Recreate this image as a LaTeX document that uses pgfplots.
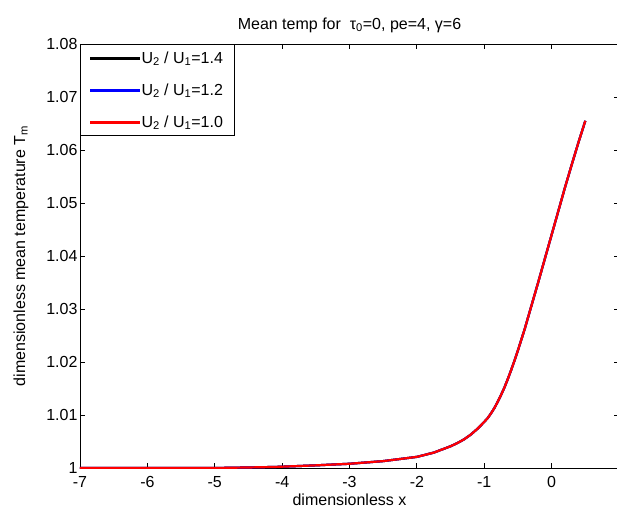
\documentclass[border=0pt]{standalone}
\usepackage{pgfplots}
\usepackage{pgfplotstable}
\pgfplotsset{compat=1.18}
\usepackage{fontspec}
\setmainfont{Liberation Sans}
\pgfplotstableread{
x y
-7.0 1.0000
-6.0 1.0000
-5.0 1.0000
-4.5 1.0001
-4.1 1.0002
-3.5 1.0005
-3.0 1.0008
-2.5 1.0013
-2.0 1.0021
-1.75 1.0029
-1.5 1.0041
-1.4 1.0047
-1.3 1.0054
-1.2 1.0063
-1.1 1.0074
-1.0 1.0087
-0.95 1.0094
-0.9 1.0103
-0.85 1.0113
-0.8 1.0125
-0.75 1.0138
-0.7 1.0152
-0.65 1.0168
-0.6 1.0185
-0.55 1.0203
-0.5 1.0222
-0.45 1.0242
-0.4 1.0262
-0.3 1.0306
-0.2 1.0350
-0.1 1.0395
0.0 1.0440
0.1 1.0485
0.2 1.0530
0.3 1.0573
0.4 1.0615
0.5 1.0655
}\dataA
\pgfplotstableread{
x y
-7.0 1.0000
-6.0 1.0000
-5.0 1.0000
-4.5 1.0001
-4.1 1.0002
-3.5 1.0005
-3.0 1.0008
-2.5 1.0013
-2.0 1.0021
-1.75 1.0029
-1.5 1.0041
-1.4 1.0047
-1.3 1.0054
-1.2 1.0063
-1.1 1.0074
-1.0 1.0087
-0.95 1.0094
-0.9 1.0103
-0.85 1.0113
-0.8 1.0125
-0.75 1.0138
-0.7 1.0152
-0.65 1.0168
-0.6 1.0185
-0.55 1.0203
-0.5 1.0222
-0.45 1.0242
-0.4 1.0262
-0.3 1.0306
-0.2 1.0350
-0.1 1.0395
0.0 1.0440
0.1 1.0485
0.2 1.0530
0.3 1.0573
0.4 1.0615
0.5 1.0655
}\dataB
\pgfplotstableread{
x y
-7.0 1.0000
-6.0 1.0000
-5.0 1.0000
-4.5 1.0001
-4.1 1.0002
-3.5 1.0005
-3.0 1.0008
-2.5 1.0013
-2.0 1.0021
-1.75 1.0029
-1.5 1.0041
-1.4 1.0047
-1.3 1.0054
-1.2 1.0063
-1.1 1.0074
-1.0 1.0087
-0.95 1.0094
-0.9 1.0103
-0.85 1.0113
-0.8 1.0125
-0.75 1.0138
-0.7 1.0152
-0.65 1.0168
-0.6 1.0185
-0.55 1.0203
-0.5 1.0222
-0.45 1.0242
-0.4 1.0262
-0.3 1.0306
-0.2 1.0350
-0.1 1.0395
0.0 1.0440
0.1 1.0485
0.2 1.0530
0.3 1.0573
0.4 1.0615
0.5 1.0655
}\dataC
\begin{document}
\begin{tikzpicture}[font=\fontsize{16}{19}\selectfont]
\begin{axis}[
  at={(0,0)}, anchor=south west,
  scale only axis, width=539pt, height=424pt,
  xmin=-7, xmax=1, ymin=1, ymax=1.08,
  xtick={-7,-6,-5,-4,-3,-2,-1,0},
  xticklabels={-7,-6,-5,-4,-3,-2,-1,0},
  ytick={1,1.01,1.02,1.03,1.04,1.05,1.06,1.07,1.08},
  yticklabels={1,1.01,1.02,1.03,1.04,1.05,1.06,1.07,1.08},
  tick align=inside, tick pos=both, major tick length=5pt,
  axis line style={line width=0.9pt},
  every tick/.style={black, line width=0.9pt},
  xticklabel style={yshift=-5pt},
  yticklabel style={xshift=1pt},
  title={Mean temp for \ τ\textsubscript{0}=0, pe=4, γ=6},
  title style={yshift=2pt},
  xlabel={dimensionless x},
  ylabel={dimensionless mean temperature T\textsubscript{m}},
  xlabel style={yshift=1pt},
  ylabel style={yshift=11pt},
  legend cell align=left,
  legend style={at={(0,1)}, anchor=north west, draw=black, line width=1pt,
    inner xsep=10pt, inner ysep=5pt, row sep=15pt, font=\fontsize{16}{19}\selectfont},
  legend image code/.code={\fill[#1, draw=none] (0pt,-1.5pt) rectangle (49pt,1.5pt);},
]
\addplot[black, line width=2.2pt] table[x=x,y=y] {\dataA};
\addlegendentry{U\textsubscript{2} / U\textsubscript{1}=1.4}
\addplot[blue, line width=2.2pt] table[x=x,y=y] {\dataB};
\addlegendentry{U\textsubscript{2} / U\textsubscript{1}=1.2}
\addplot[red, line width=2.2pt] table[x=x,y=y] {\dataC};
\addlegendentry{U\textsubscript{2} / U\textsubscript{1}=1.0}
\end{axis}
\pgfresetboundingbox
\useasboundingbox (-80pt,-45pt) rectangle (537pt,468pt);
\end{tikzpicture}
\end{document}
